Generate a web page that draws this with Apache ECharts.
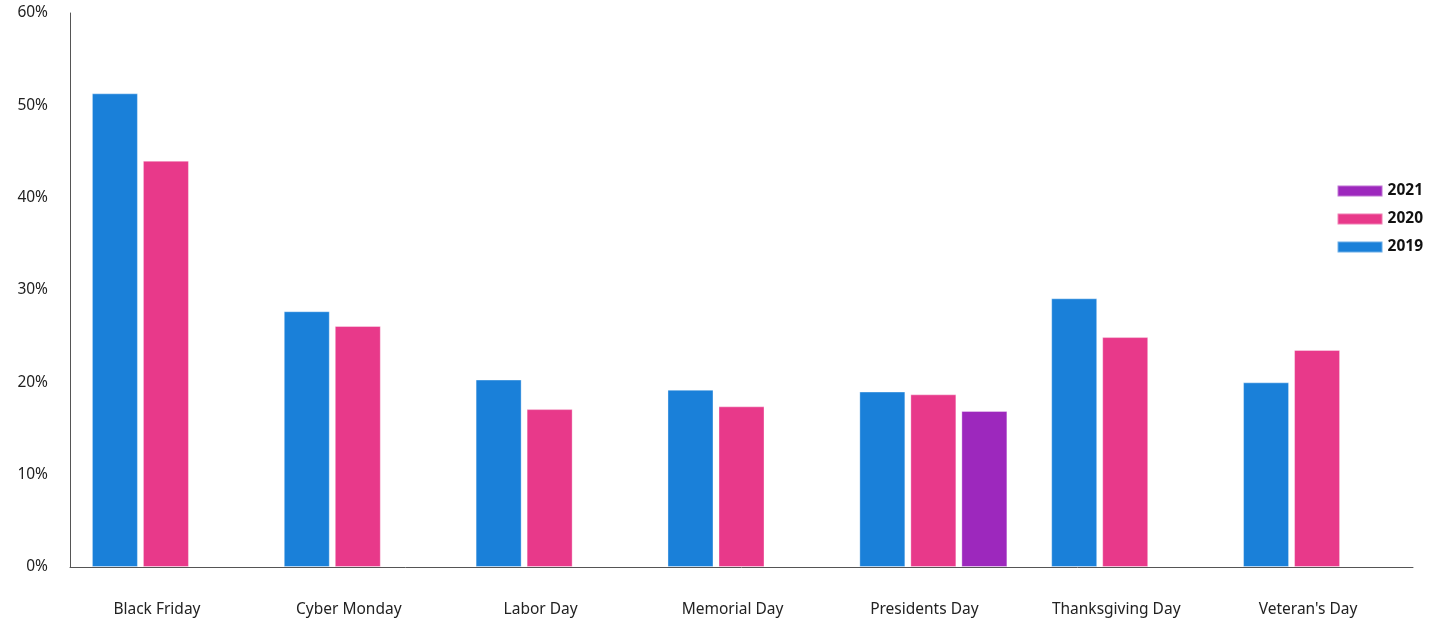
<!DOCTYPE html>
<html>
<head>
<meta charset="utf-8">
<script src="https://cdn.jsdelivr.net/npm/echarts@6/dist/echarts.min.js"></script>
<style>
  html, body { margin: 0; padding: 0; background: #fff; }
  #chart { width: 1442px; height: 621px; }
</style>
</head>
<body>
<div id="chart"></div>
<script>
// Holiday share by year (%)
const categories = ['Black Friday', 'Cyber Monday', 'Labor Day', 'Memorial Day', 'Presidents Day', 'Thanksgiving Day', "Veteran's Day"];
const values2019 = [51.3, 27.7, 20.3, 19.2, 19.0, 29.1, 20.0];
const values2020 = [44.0, 26.1, 17.1, 17.4, 18.7, 24.9, 23.5];
const values2021 = [null, null, null, null, 16.9, null, null];
const yTicks = [0, 10, 20, 30, 40, 50, 60];

const COLORS = { y2019: '#1a80d9', y2020: '#e8398a', y2021: '#9d28bd' };
const FONT = '"Noto Sans", "Open Sans", sans-serif';

const chart = echarts.init(document.getElementById('chart'), null, { renderer: 'canvas' });

function barSeries(name, data, color) {
  return {
    name: name,
    type: 'bar',
    data: data,
    barWidth: 46,
    barGap: '10.9%',
    itemStyle: { color: color, borderColor: 'rgba(255,255,255,0.35)', borderWidth: 1 },
    emphasis: { disabled: true }
  };
}

chart.setOption({
  animation: false,
  textStyle: { fontFamily: FONT },
  grid: { left: 70, right: 29, top: 13, bottom: 54 },
  legend: {
    data: ['2021', '2020', '2019'],
    orient: 'vertical',
    right: 14,
    top: 178,
    itemWidth: 45,
    itemHeight: 11,
    itemGap: 12,
    icon: 'rect',
    textStyle: { fontFamily: FONT, fontSize: 15.5, fontWeight: 'bold', color: '#111' }
  },
  xAxis: {
    type: 'category',
    data: categories,
    axisLine: { lineStyle: { color: '#555', width: 1 } },
    axisTick: { show: false },
    axisLabel: {
      interval: 0,
      hideOverlap: false,
      color: '#222', fontSize: 15.5, margin: 35, fontFamily: FONT,
      // labels sit slightly left of the category centre
      formatter: v => '{c|' + v + '}',
      rich: {
        c: { color: '#222', fontSize: 15.5, fontFamily: FONT, padding: [0, 18, 0, 0] }
      }
    }
  },
  yAxis: {
    type: 'value',
    min: yTicks[0],
    max: yTicks[yTicks.length - 1],
    interval: 10,
    axisLine: { show: true, lineStyle: { color: '#555', width: 1 } },
    axisTick: { show: false },
    splitLine: { show: false },
    axisLabel: { color: '#222', fontSize: 15.5, margin: 22, fontFamily: FONT, formatter: v => v + '%' }
  },
  series: [
    barSeries('2019', values2019, COLORS.y2019),
    barSeries('2020', values2020, COLORS.y2020),
    barSeries('2021', values2021, COLORS.y2021)
  ]
});
</script>
</body>
</html>
